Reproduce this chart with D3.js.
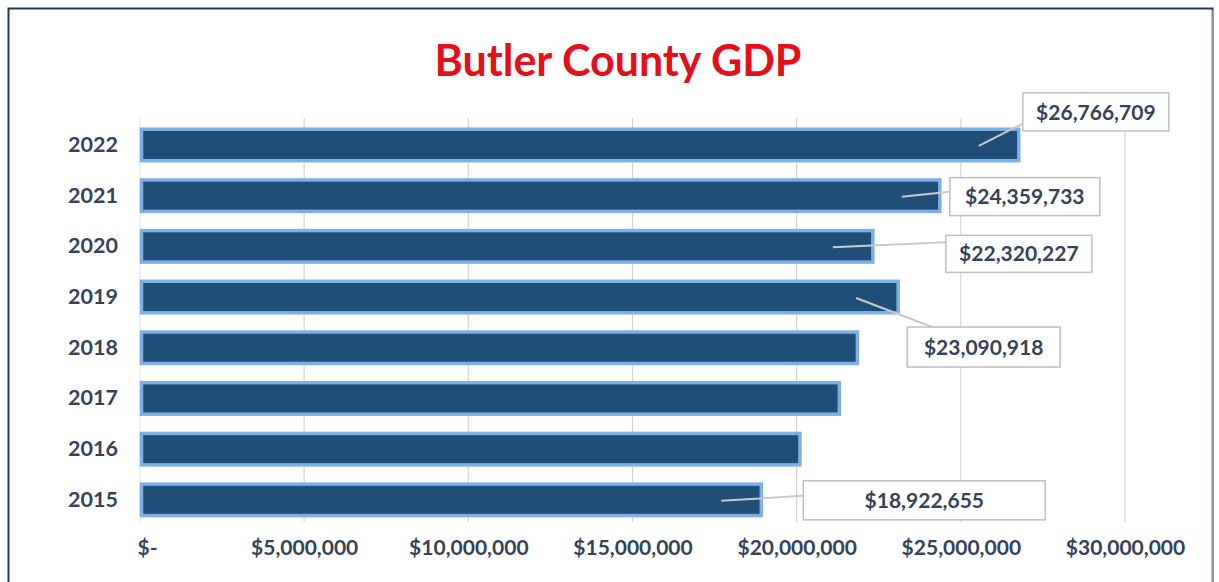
<!DOCTYPE html>
<html><head><meta charset="utf-8">
<script src="https://cdn.jsdelivr.net/npm/d3@7"></script>
<style>
html,body{margin:0;padding:0;background:#fff;}
svg{display:block;}
text{font-family:Lato,"Open Sans",sans-serif;}
</style></head>
<body>
<svg id="c" width="1219" height="582"></svg>
<script>
// ---- data ----
const years = ["2022","2021","2020","2019","2018","2017","2016","2015"];
const gdp = [26766709, 24359733, 22320227, 23090918, 21850000, 21300000, 20100000, 18922655];
const labeledYears = ["2022","2021","2020","2019","2015"];
const xTicks = [0, 5000000, 10000000, 15000000, 20000000, 25000000, 30000000];
const title = "Butler County GDP";

// ---- layout (callout box placement relative to bar end, px) ----
const calloutLayout = {
  "2022": {bx: 4,   by: -52, w: 146, h: 38, from: -40, to: [60, 0]},
  "2021": {bx: 10,  by: -18, w: 150, h: 38, from: -38, to: [0, 14]},
  "2020": {bx: 73,  by: -11, w: 146, h: 37, from: -40, to: [0, 7]},
  "2019": {bx: 9,   by: 30,  w: 153, h: 40, from: -42, to: [25, 0]},
  "2015": {bx: 42,  by: -19, w: 242, h: 39, from: -40, to: [0, 15]}
};

const svg = d3.select("#c");

// frame
svg.append("rect").attr("x", 8.5).attr("y", 8.5).attr("width", 1204).attr("height", 600)
  .attr("fill", "#fff").attr("stroke", "#1f3b5c").attr("stroke-width", 2);
svg.append("line").attr("x1", 1212).attr("x2", 1212).attr("y1", 10).attr("y2", 582)
  .attr("stroke", "#e3e8ee").attr("stroke-width", 1);

const x = d3.scaleLinear().domain([0, 30000000]).range([140, 1125]);
const y = d3.scaleBand().domain(years).range([119.6, 525.2]).paddingInner(0.32).paddingOuter(0.16);

const fmt = d3.format(",.0f");
const money = v => v === 0 ? "$-" : "$" + fmt(v);
const txtCol = "#34435a";

// gridlines
svg.append("g").selectAll("line").data(xTicks).join("line")
  .attr("x1", d => x(d)).attr("x2", d => x(d))
  .attr("y1", 118).attr("y2", 522)
  .attr("stroke", d => d === 0 ? "#e6e6e6" : "#d4d4d4").attr("stroke-width", 1.2);

// x axis
const xa = svg.append("g").attr("transform", "translate(0,540)")
  .call(d3.axisBottom(x).tickValues(xTicks).tickFormat(money).tickSize(0).tickPadding(0));
xa.select(".domain").remove();
xa.selectAll("text").attr("font-size", 21).attr("font-weight", 700).attr("fill", txtCol)
  .attr("dy", "0.71em");
xa.selectAll(".tick").filter(d => d === 0).select("text").attr("dx", 7);

// y axis
const ya = svg.append("g").attr("transform", "translate(140,0)")
  .call(d3.axisLeft(y).tickSize(0).tickPadding(22));
ya.select(".domain").remove();
ya.selectAll("text").attr("font-size", 21.5).attr("font-weight", 700).attr("fill", txtCol);

// bars
const rows = years.map((yr, i) => ({year: yr, value: gdp[i]}));
svg.append("g").selectAll("rect").data(rows).join("rect")
  .attr("x", x(0) + 1.5)
  .attr("y", d => y(d.year) + 1.5)
  .attr("width", d => x(d.value) - x(0) - 1.5)
  .attr("height", y.bandwidth() - 3)
  .attr("fill", "#1f4e79")
  .attr("stroke", "#7fb0e3")
  .attr("stroke-width", 3.5);

// callouts
const cg = svg.append("g");
rows.filter(d => labeledYears.includes(d.year)).forEach(d => {
  const L = calloutLayout[d.year];
  const ex = x(d.value);
  const cy = y(d.year) + y.bandwidth() / 2;
  const bx = ex + L.bx, by = cy + L.by;
  cg.append("line")
    .attr("x1", ex + L.from).attr("y1", cy + 1)
    .attr("x2", bx + L.to[0]).attr("y2", by + L.to[1])
    .attr("stroke", "#c9c9c9").attr("stroke-width", 2);
  cg.append("rect").attr("x", bx).attr("y", by).attr("width", L.w).attr("height", L.h)
    .attr("fill", "#fff").attr("stroke", "#bfbfbf").attr("stroke-width", 1.5);
  cg.append("text").attr("x", bx + L.w / 2).attr("y", by + L.h / 2).attr("dy", "0.36em")
    .attr("text-anchor", "middle").attr("font-size", 21).attr("font-weight", 700)
    .attr("fill", txtCol).text(money(d.value));
});

// title
svg.append("text").attr("x", 618).attr("y", 76).attr("text-anchor", "middle")
  .attr("font-size", 43).attr("font-weight", 700).attr("fill", "#e3101a").text(title);
</script>
</body></html>
